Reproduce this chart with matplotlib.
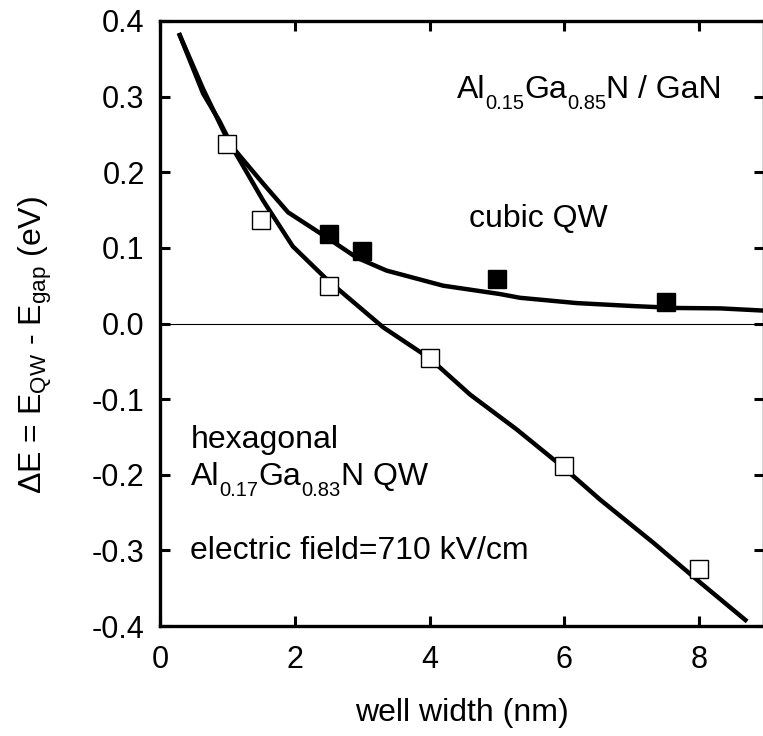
import matplotlib
matplotlib.use("Agg")
import matplotlib.pyplot as plt
from matplotlib.transforms import ScaledTranslation

plt.rcParams['font.family'] = ['Liberation Sans', 'DejaVu Sans']
plt.rcParams['axes.unicode_minus'] = False
plt.rcParams['mathtext.fontset'] = 'custom'
plt.rcParams['mathtext.rm'] = 'Liberation Sans'
plt.rcParams['mathtext.it'] = 'Liberation Sans'

# Measured transition energies (open: hexagonal QW, filled: cubic QW)
hex_width = [1.0, 1.5, 2.5, 4.0, 6.0, 8.0]
hex_energy = [0.238, 0.137, 0.049, -0.045, -0.188, -0.325]
cub_width = [2.5, 3.0, 5.0, 7.5]
cub_energy = [0.118, 0.096, 0.059, 0.028]

# Calculated curves
hex_calc_x = [0.28, 0.64, 0.88, 1.13, 1.53, 1.97, 2.49, 3.31, 4.0, 4.6,
              5.29, 5.98, 6.53, 7.32, 8.02, 8.71]
hex_calc_y = [0.384, 0.304, 0.268, 0.224, 0.1625, 0.102, 0.057, -0.005,
              -0.046, -0.094, -0.14, -0.19, -0.233, -0.29, -0.343, -0.394]
cub_calc_x = [0.28, 0.64, 1.03, 1.53, 1.9, 2.47, 2.92, 3.36, 4.2, 5.04,
              5.34, 6.18, 7.03, 7.67, 8.31, 8.97]
cub_calc_y = [0.384, 0.31, 0.238, 0.185, 0.147, 0.114, 0.087, 0.07, 0.05,
              0.039, 0.034, 0.027, 0.023, 0.0205, 0.02, 0.017]

x_ticks = [0, 2, 4, 6, 8]
y_ticks = [-0.4, -0.3, -0.2, -0.1, 0.0, 0.1, 0.2, 0.3, 0.4]
y_ticklabels = ['-0.4', '-0.3', '-0.2', '-0.1', '0.0', '0.1', '0.2', '0.3', '0.4']

W, H = 763, 736
fig = plt.figure(figsize=(W / 100, H / 100), dpi=100)
ax = fig.add_axes([160 / W, (H - 626) / H, (764 - 160) / W, (626 - 21) / H])
ax.set_xlim(0, 8.96)
ax.set_ylim(-0.4, 0.4)

ax.axhline(0.0, color='black', lw=0.8, zorder=1)
ax.plot(hex_calc_x, hex_calc_y, color='black', lw=3.2, solid_joinstyle='round',
        solid_capstyle='butt', zorder=2)
ax.plot(cub_calc_x, cub_calc_y, color='black', lw=3.2, solid_joinstyle='round',
        solid_capstyle='butt', zorder=2)
ax.plot(hex_width, hex_energy, ls='none', marker='s', ms=13, mfc='white',
        mec='black', mew=1.0, zorder=3)
ax.plot(cub_width, cub_energy, ls='none', marker='s', ms=13, mfc='black',
        mec='black', mew=1.0, zorder=3)

for s in ax.spines.values():
    s.set_linewidth(2.4)
ax.set_xticks(x_ticks)
ax.set_yticks(y_ticks)
ax.set_yticklabels(y_ticklabels)
ax.tick_params(direction='in', length=7, width=2.2, top=True, right=True,
               labelsize=22)
ax.tick_params(axis='x', pad=14)
ax.tick_params(axis='y', pad=11)

ax.set_xlabel('well width (nm)', fontsize=23, labelpad=16)
ax.set_ylabel(r'$\Delta$E = E$_{\rm QW}$ - E$_{\rm gap}$ (eV)', fontsize=23,
              labelpad=27)
ax.yaxis.label.set_y(0.465)

renderer = fig.canvas.get_renderer()


def chain_text(x, y, pieces):
    """Draw text pieces one after another, each (string, size, rise in pt)."""
    dx = 0.0
    for s, size, rise in pieces:
        tr = ax.transData + ScaledTranslation(dx, rise / 72, fig.dpi_scale_trans)
        t = ax.text(x, y, s, fontsize=size, transform=tr, ha='left',
                    va='baseline')
        dx += t.get_window_extent(renderer).width / fig.dpi


BIG, SUB, DROP = 23, 14.5, -8
chain_text(4.40, 0.2985, [('Al', BIG, 0), ('0.15', SUB, DROP), ('Ga', BIG, 0),
                          ('0.85', SUB, DROP), ('N / GaN', BIG, 0)])
chain_text(4.59, 0.128, [('cubic QW', BIG, 0)])
chain_text(0.46, -0.1646, [('hexagonal', BIG, 0)])
chain_text(0.46, -0.2136, [('Al', BIG, 0), ('0.17', SUB, DROP), ('Ga', BIG, 0),
                           ('0.83', SUB, DROP), ('N QW', BIG, 0)])
chain_text(0.44, -0.3117, [('electric field=710 kV/cm', BIG, 0)])

fig.savefig('out.png', dpi=100)
